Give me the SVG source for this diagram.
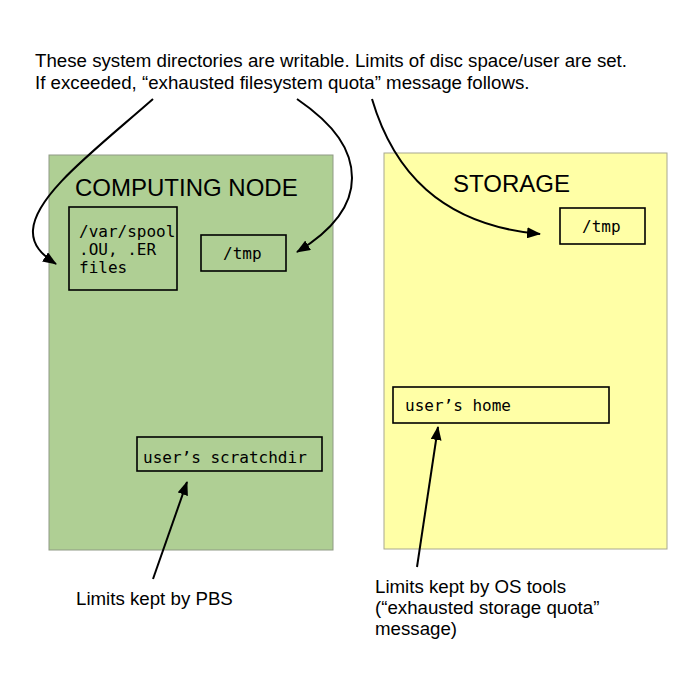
<svg xmlns="http://www.w3.org/2000/svg" width="699" height="690" viewBox="0 0 699 690">
  <defs>
    <marker id="arrow" markerUnits="userSpaceOnUse" markerWidth="14" markerHeight="11" refX="13" refY="5.5" orient="auto">
      <path d="M0,0 L14,5.5 L0,11 z" fill="#000"/>
    </marker>
  </defs>
  <style>
    .sans { font-family: "Liberation Sans", Arial, sans-serif; fill: #000; }
    .mono { font-family: "DejaVu Sans Mono", "Liberation Mono", monospace; font-size: 16px; fill: #000; }
    .title { font-size: 24px; }
    .note { font-size: 18.7px; }
    .box { fill: none; stroke: #000; stroke-width: 1.6; }
    .conn { fill: none; stroke: #000; stroke-width: 2; marker-end: url(#arrow); }
  </style>
  <rect width="699" height="690" fill="#fff"/>

  <g id="intro">
    <text class="sans note" x="35" y="67">These system directories are writable. Limits of disc space/user are set.</text>
    <text class="sans note" x="35" y="89">If exceeded, “exhausted filesystem quota” message follows.</text>
  </g>

  <g id="computing-node">
    <rect x="49" y="155" width="284" height="395" fill="#afcf94" stroke="#8f9a85" stroke-width="1"/>
    <text class="sans title" x="75" y="196">COMPUTING NODE</text>
  </g>

  <g id="storage">
    <rect x="384" y="153" width="283" height="396" fill="#ffffa6" stroke="#a8a890" stroke-width="1"/>
    <text class="sans title" x="453" y="192">STORAGE</text>
  </g>

  <g id="var-spool">
    <rect class="box" x="69" y="207" width="108" height="83"/>
    <text class="mono" x="79" y="237">/var/spool</text>
    <text class="mono" x="79" y="255">.OU, .ER</text>
    <text class="mono" x="79" y="273">files</text>
  </g>

  <g id="node-tmp">
    <rect class="box" x="201" y="235" width="85" height="36"/>
    <text class="mono" x="223" y="259">/tmp</text>
  </g>

  <g id="storage-tmp">
    <rect class="box" x="560" y="208" width="85" height="36"/>
    <text class="mono" x="582" y="232">/tmp</text>
  </g>

  <g id="scratchdir">
    <rect class="box" x="137" y="437" width="185" height="34"/>
    <text class="mono" x="143" y="463">user’s scratchdir</text>
  </g>

  <g id="home">
    <rect class="box" x="393" y="387" width="216" height="36"/>
    <text class="mono" x="405" y="411">user’s home</text>
  </g>

  <g id="pbs-note">
    <text class="sans note" x="76" y="605">Limits kept by PBS</text>
  </g>

  <g id="os-note">
    <text class="sans note" x="375" y="593">Limits kept by OS tools</text>
    <text class="sans note" x="375" y="614">(“exhausted storage quota”</text>
    <text class="sans note" x="375" y="635">message)</text>
  </g>

  <g id="connectors">
    <path class="conn" d="M153,99 C95,150 35,195 33,230 C32,245 42,255 56,264"/>
    <path class="conn" d="M297,99 C335,125 352,150 352,178 C352,210 325,235 297,252"/>
    <path class="conn" d="M372,99 C393,170 440,225 540,234"/>
    <path class="conn" d="M153,579 L187,482"/>
    <path class="conn" d="M417,567 L438,427"/>
  </g>
</svg>
